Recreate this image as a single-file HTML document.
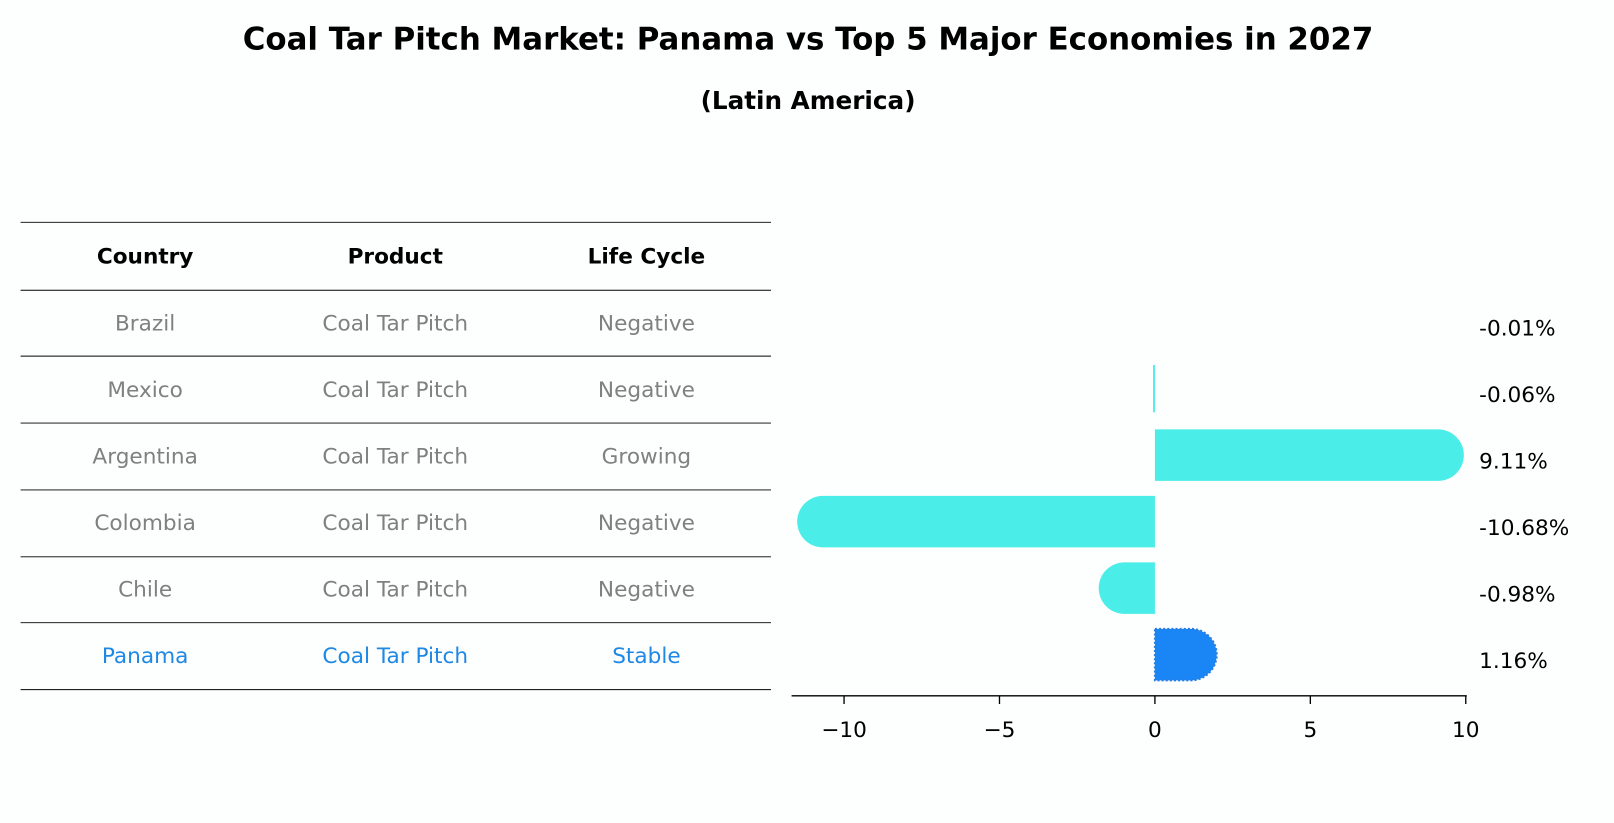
<!DOCTYPE html>
<html><head><meta charset="utf-8">
<style>
html,body{margin:0;padding:0;background:#fdfefe;}
svg{display:block;font-family:"DejaVu Sans","Liberation Sans",sans-serif;}
</style></head>
<body>
<svg id="c" width="1614" height="823" viewBox="0 0 1568 799.6" preserveAspectRatio="none" xmlns="http://www.w3.org/2000/svg">
<rect width="1568" height="800" fill="#fdfefe"/>
<text x="785" y="48" text-anchor="middle" font-size="30" font-weight="bold">Coal Tar Pitch Market: Panama vs Top 5 Major Economies in 2027</text>
<text x="785" y="106" text-anchor="middle" font-size="24" font-weight="bold">(Latin America)</text>
<g id="table"></g>
<g id="bars"></g>
</svg>
<script>
const countries=["Brazil","Mexico","Argentina","Colombia","Chile","Panama"];
const products=["Coal Tar Pitch","Coal Tar Pitch","Coal Tar Pitch","Coal Tar Pitch","Coal Tar Pitch","Coal Tar Pitch"];
const lifeCycles=["Negative","Negative","Growing","Negative","Negative","Stable"];
const growthValues=[-0.01,-0.06,9.11,-10.68,-0.98,1.16];
const valueLabels=["-0.01%","-0.06%","9.11%","-10.68%","-0.98%","1.16%"];
const xTicks=[-10,-5,0,5,10];
const xTickLabels=["\u221210","\u22125","0","5","10"];

const NS="http://www.w3.org/2000/svg";
function mk(tag,attrs,parent){const e=document.createElementNS(NS,tag);for(const k in attrs)e.setAttribute(k,attrs[k]);parent.appendChild(e);return e;}
const X=v=>1122+v*30.2;
const rowY=i=>313+i*64.6;
const tbl=document.getElementById('table');
const lineYs=[216,282,346,411,476,541,605,670];
lineYs.forEach(y=>{const l=mk('line',{x1:20,x2:749,y1:y,y2:y,stroke:'#000','stroke-width':0.9},tbl);

});
const colX=[141,384,628];
["Country","Product","Life Cycle"].forEach((h,j)=>{const t=mk('text',{x:colX[j],y:256,'text-anchor':'middle','font-size':21,'font-weight':'bold'},tbl);t.textContent=h;

});
countries.forEach((c,i)=>{
  const col=i===countries.length-1?'#1e88e5':'#808080';
  [c,products[i],lifeCycles[i]].forEach((v,j)=>{
    const t=mk('text',{x:colX[j],y:rowY(i)+8,'text-anchor':'middle','font-size':21,fill:col},tbl);t.textContent=v;
    
    
  });
});
const g=document.getElementById('bars');
const r=25;
growthValues.forEach((v,i)=>{
  const hl=i===growthValues.length-1;
  const fill=hl?'#1a85f5':'#4aede8';
  const y0=rowY(i)-r,x0=X(0),x1=X(v);
  let d;
  const w=Math.abs(x1-x0);
  if(w<3){d=`M${Math.min(x0,x1)},${y0+2}h${w}v${2*r-4}h${-w}Z`;}
  else if(v>0){d=`M${x0},${y0}H${x1}A${r},${r} 0 0 1 ${x1},${y0+2*r}H${x0}Z`;}
  else{d=`M${x0},${y0}H${x1}A${r},${r} 0 0 0 ${x1},${y0+2*r}H${x0}Z`;}
  const p=mk('path',{d:d,fill:fill},g);
  if(hl){p.setAttribute('stroke','#2a7de0');p.setAttribute('stroke-width','2');p.setAttribute('stroke-dasharray','2 2');}
  if(w<1){p.setAttribute('fill','none');}
  
  
  const t=mk('text',{x:1437,y:rowY(i)+13,'font-size':21},g);t.textContent=valueLabels[i];
  
  
});
const ax=mk('line',{x1:769,x2:1425,y1:676,y2:676,stroke:'#000','stroke-width':1.3},g);


xTicks.forEach((v,k)=>{
  const tk=mk('line',{x1:X(v),x2:X(v),y1:676,y2:684,stroke:'#000','stroke-width':1.3},g);
  
  
  const t=mk('text',{x:X(v),y:716,'text-anchor':'middle','font-size':21},g);t.textContent=xTickLabels[k];
  
  
});
</script>
</body></html>
